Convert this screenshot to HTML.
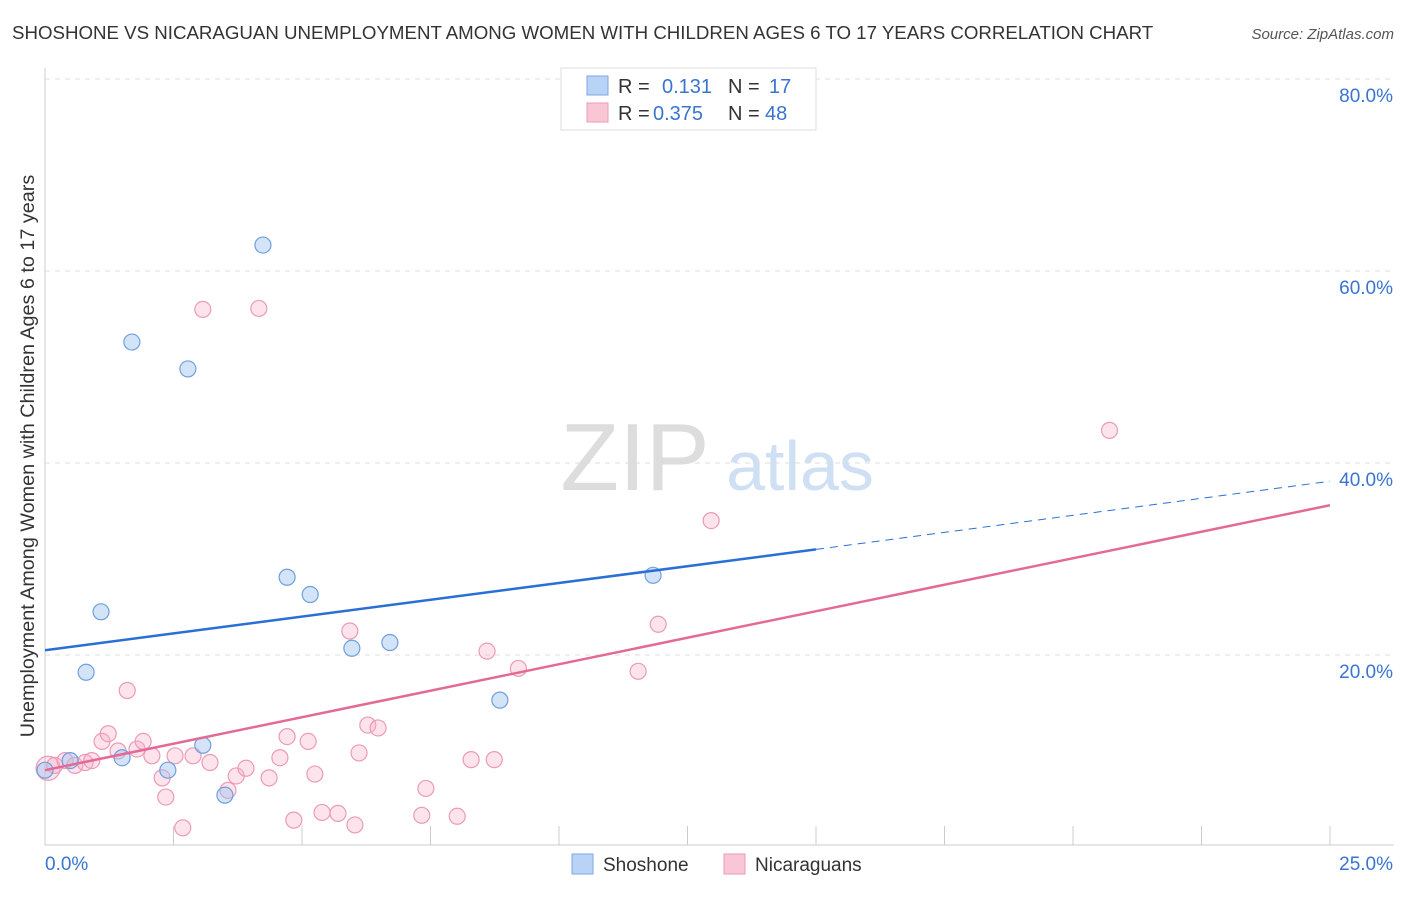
<!DOCTYPE html>
<html><head><meta charset="utf-8"><style>
body{margin:0;background:#fff;font-family:"Liberation Sans",sans-serif}
svg text{font-family:"Liberation Sans",sans-serif}
</style></head><body>
<svg id="chart" width="1406" height="892" xmlns="http://www.w3.org/2000/svg">
<text x="12" y="39" font-size="18.7" fill="#333">SHOSHONE VS NICARAGUAN UNEMPLOYMENT AMONG WOMEN WITH CHILDREN AGES 6 TO 17 YEARS CORRELATION CHART</text>
<text x="1394" y="39" font-size="15" fill="#555" text-anchor="end" font-style="italic">Source: ZipAtlas.com</text>
<text transform="translate(34,456) rotate(-90)" font-size="19.8" fill="#333" text-anchor="middle">Unemployment Among Women with Children Ages 6 to 17 years</text>
<g>
<text x="635" y="490" font-size="96" fill="#ddd" font-family="Liberation Serif" text-anchor="middle">ZIP</text>
<text x="800" y="490" font-size="70" fill="#cfe0f4" text-anchor="middle">atlas</text>
</g>
<g id="grid"></g><g id="marks"></g>
<g>
<rect x="561" y="68" width="255" height="62" fill="#fff" stroke="#ddd"/>
<rect x="587" y="76" width="21" height="19" fill="#b8d3f5" stroke="#7aaae6"/>
<rect x="587" y="103" width="21" height="19" fill="#f9c6d6" stroke="#ef99b6"/>
<text x="618" y="93" font-size="20" fill="#333">R = </text><text x="662" y="93" font-size="20" fill="#3a74d0">0.131</text>
<text x="728" y="93" font-size="20" fill="#333">N = </text><text x="769" y="93" font-size="20" fill="#3a74d0">17</text>
<text x="618" y="120" font-size="20" fill="#333">R = </text><text x="653" y="120" font-size="20" fill="#3a74d0">0.375</text>
<text x="728" y="120" font-size="20" fill="#333">N = </text><text x="765" y="120" font-size="20" fill="#3a74d0">48</text>
</g>
<g>
<rect x="572" y="854" width="21" height="20" fill="#b8d3f5" stroke="#7aaae6"/>
<text x="603" y="871" font-size="19" fill="#333">Shoshone</text>
<rect x="724" y="854" width="21" height="20" fill="#f9c6d6" stroke="#ef99b6"/>
<text x="755" y="871" font-size="19" fill="#333">Nicaraguans</text>
</g>
</svg>
<script>
const yTicks=[20,40,60,80];
const yTickLabels=["20.0%","40.0%","60.0%","80.0%"];
const xTickLabels=["0.0%","25.0%"];
const shoX=[0.0,0.49,0.8,1.09,1.5,1.69,2.39,2.78,3.07,3.5,4.24,4.71,5.16,5.97,6.71,8.85,11.83];
const shoY=[8.0,9.0,18.2,24.5,9.3,52.6,8.0,49.8,10.6,5.4,62.7,28.1,26.3,20.7,21.3,15.3,28.3];
const nicX=[0.06,0.19,0.39,0.58,0.78,0.91,1.11,1.23,1.42,1.6,1.79,1.91,2.08,2.28,2.35,2.53,2.68,2.88,3.07,3.21,3.56,3.72,3.91,4.16,4.36,4.57,4.71,4.84,5.12,5.25,5.39,5.7,5.93,6.03,6.11,6.28,6.48,7.41,7.33,8.02,8.29,8.6,8.74,9.21,11.54,11.93,12.96,20.71];
const nicY=[8.2,8.5,9.0,8.5,8.8,9.0,11.0,11.8,10.0,16.3,10.2,11.0,9.5,7.2,5.2,9.5,2.0,9.5,56.0,8.8,5.9,7.4,8.2,56.1,7.2,9.3,11.5,2.8,11.0,7.6,3.6,3.5,22.5,2.3,9.8,12.7,12.4,6.1,3.3,3.2,9.1,20.4,9.1,18.6,18.3,23.2,34.0,43.4];
const shoLine=[20.5,0,15,31.0,25,38.1];
const nicLine=[8.0,25,35.6];
const X0=45,XS=(1330-45)/25,Y0=847,YS=(847-79)/80;
const x=v=>X0+v*XS, y=v=>Y0-v*YS;
const NS="http://www.w3.org/2000/svg";
function mk(t,a,p){const e=document.createElementNS(NS,t);for(const k in a)e.setAttribute(k,a[k]);p.appendChild(e);return e;}
const g=document.getElementById('grid'),m=document.getElementById('marks');
yTicks.forEach((v,i)=>{
 const l=mk('line',{x1:45,x2:1394,y1:y(v),y2:y(v),stroke:'#ddd','stroke-dasharray':'5,5'},g);
 
 
 const t=mk('text',{x:1393,y:y(v)+23,'font-size':19,fill:'#3a74d0','text-anchor':'end'},g);
 t.textContent=yTickLabels[i];
 
 
});
const ax=mk('line',{x1:45,x2:1394,y1:845,y2:845,stroke:'#ccc'},g);


const ay=mk('line',{x1:45,x2:45,y1:68,y2:845,stroke:'#ccc'},g);


for(let i=0;i<=10;i++){const tk=mk('line',{x1:x(i*2.5),x2:x(i*2.5),y1:826,y2:845,stroke:'#ccc'},g);
 
 }
[[0,'start',45],[1,'end',1393]].forEach(([i,a,px])=>{const t=mk('text',{x:px,y:870,'font-size':19,fill:'#3a74d0','text-anchor':a},g);t.textContent=xTickLabels[i];
 
 });
nicX.forEach((v,i)=>{const c=mk('circle',{cx:x(v),cy:y(nicY[i]),r:i==0?12:8,fill:'rgba(246,176,200,0.35)',stroke:'#ec9ab6','stroke-width':1.2},m);
 
 });
shoX.forEach((v,i)=>{const c=mk('circle',{cx:x(v),cy:y(shoY[i]),r:8,fill:'rgba(160,196,240,0.45)',stroke:'#6f9fdc','stroke-width':1.2},m);
 
 });
const b1=mk('line',{x1:x(0),y1:y(shoLine[0]),x2:x(shoLine[2]),y2:y(shoLine[3]),stroke:'#2a6fd4','stroke-width':2.5},m);


const b2=mk('line',{x1:x(shoLine[2]),y1:y(shoLine[3]),x2:x(shoLine[4]),y2:y(shoLine[5]),stroke:'#2a6fd4','stroke-width':1,'stroke-dasharray':'8,6'},m);


const p1=mk('line',{x1:x(0),y1:y(nicLine[0]),x2:x(nicLine[1]),y2:y(nicLine[2]),stroke:'#e46a96','stroke-width':2.5},m);


</script>
</body></html>
